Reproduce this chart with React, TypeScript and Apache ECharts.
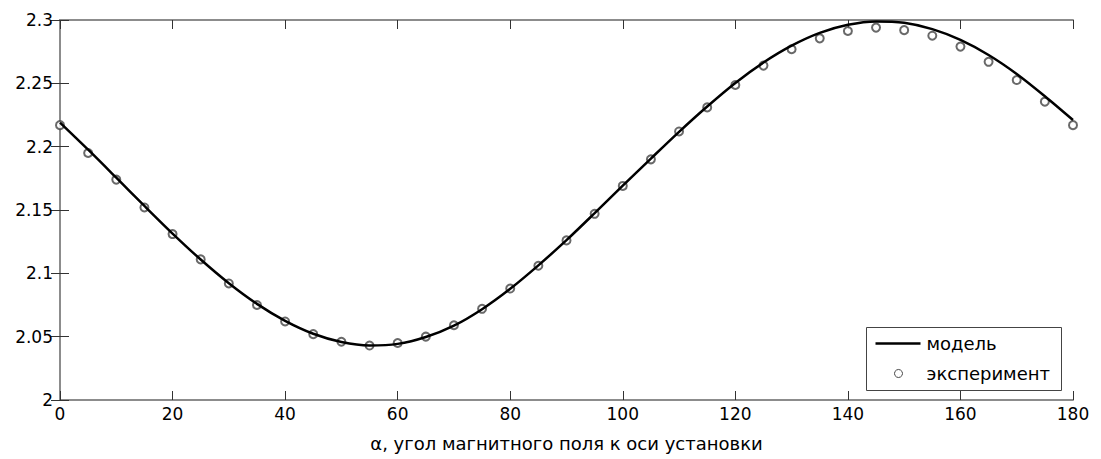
import React, { useEffect, useRef } from "react";
import * as echarts from "echarts";

const angles = [0, 5, 10, 15, 20, 25, 30, 35, 40, 45, 50, 55, 60, 65, 70, 75, 80, 85, 90, 95, 100, 105, 110, 115, 120, 125, 130, 135, 140, 145, 150, 155, 160, 165, 170, 175, 180];

const modelValues = [2.219, 2.1976, 2.1755, 2.1532, 2.1314, 2.1109, 2.0922, 2.0759, 2.0625, 2.0523, 2.0458, 2.0431, 2.0443, 2.0497, 2.0587, 2.0717, 2.0878, 2.1063, 2.1262, 2.1475, 2.1692, 2.1906, 2.2117, 2.2317, 2.2503, 2.2664, 2.2797, 2.2898, 2.2962, 2.2989, 2.2978, 2.2928, 2.2843, 2.2724, 2.2574, 2.2398, 2.221];

const experimentValues = [2.217, 2.195, 2.174, 2.152, 2.131, 2.111, 2.092, 2.075, 2.062, 2.052, 2.046, 2.043, 2.045, 2.05, 2.059, 2.072, 2.088, 2.106, 2.126, 2.147, 2.169, 2.19, 2.212, 2.231, 2.2487, 2.264, 2.2769, 2.2855, 2.2913, 2.294, 2.292, 2.2876, 2.279, 2.267, 2.2526, 2.2355, 2.217];

const xTicks = { min: 0, max: 180, interval: 20 };
const yTicks = { min: 2, max: 2.3, interval: 0.05 };

const seriesNames = ["модель", "эксперимент"];
const xAxisName = "α, угол магнитного поля к оси установки";

const FONT = "DejaVu Sans";

export default function App() {
  const ref = useRef<HTMLDivElement>(null);
  useEffect(() => {
    if (!ref.current) return;
    const chart = echarts.init(ref.current, null, { renderer: "svg" });
    const axisLine = { show: true, lineStyle: { color: "#8c8c8c", width: 2 } };
    const axisTick = { show: true, inside: true, length: 9, lineStyle: { color: "#333", width: 1 } };
    chart.setOption({
      animation: false,
      backgroundColor: "#fff",
      grid: { left: 60, right: 28, top: 20, bottom: 59, containLabel: false },
      xAxis: [
        {
          type: "value",
          min: xTicks.min,
          max: xTicks.max,
          interval: xTicks.interval,
          position: "bottom",
          axisLine,
          axisTick,
          splitLine: { show: false },
          axisLabel: { fontFamily: FONT, fontSize: 17, color: "#000", margin: 5 },
          name: xAxisName,
          nameLocation: "middle",
          nameGap: 34,
          nameTextStyle: { fontFamily: FONT, fontSize: 18, color: "#000" },
        },
        {
          type: "value",
          min: xTicks.min,
          max: xTicks.max,
          interval: xTicks.interval,
          position: "top",
          axisLine,
          axisTick,
          splitLine: { show: false },
          axisLabel: { show: false },
        },
      ],
      yAxis: [
        {
          type: "value",
          min: yTicks.min,
          max: yTicks.max,
          interval: yTicks.interval,
          position: "left",
          axisLine,
          axisTick,
          splitLine: { show: false },
          axisLabel: { fontFamily: FONT, fontSize: 17, color: "#000", margin: 7 },
        },
        {
          type: "value",
          min: yTicks.min,
          max: yTicks.max,
          interval: yTicks.interval,
          position: "right",
          axisLine,
          axisTick,
          splitLine: { show: false },
          axisLabel: { show: false },
        },
      ],
      graphic: [
        {
          type: "group",
          left: 866,
          top: 327,
          z: 100,
          children: [
            {
              type: "rect",
              shape: { x: 0, y: 0, width: 195, height: 63 },
              style: { fill: "#fff", stroke: "#444", lineWidth: 1 },
            },
            {
              type: "line",
              shape: { x1: 9, y1: 16, x2: 54, y2: 16 },
              style: { stroke: "#000", lineWidth: 2.5 },
            },
            {
              type: "text",
              x: 60,
              y: 16,
              style: { text: seriesNames[0], fontFamily: FONT, fontSize: 18, fill: "#000", verticalAlign: "middle" },
            },
            {
              type: "circle",
              shape: { cx: 32, cy: 46, r: 4 },
              style: { fill: "#fff", stroke: "#444", lineWidth: 1 },
            },
            {
              type: "text",
              x: 60,
              y: 46,
              style: { text: seriesNames[1], fontFamily: FONT, fontSize: 18, fill: "#000", verticalAlign: "middle" },
            },
          ],
        },
      ],
      series: [
        {
          name: seriesNames[0],
          type: "line",
          smooth: 0.3,
          symbol: "none",
          data: angles.map((a, i) => [a, modelValues[i]]),
          lineStyle: { color: "#000", width: 2.5 },
          itemStyle: { color: "#000" },
          z: 3,
        },
        {
          name: seriesNames[1],
          type: "scatter",
          symbol: "emptyCircle",
          symbolSize: 8,
          data: angles.map((a, i) => [a, experimentValues[i]]),
          itemStyle: { color: "#444", borderColor: "#444", borderWidth: 1 },
          z: 2,
        },
      ],
    });
    return () => chart.dispose();
  }, []);
  return (
    <div
      ref={ref}
      style={{ position: "fixed", left: 0, top: 0, width: 1101, height: 459 }}
    />
  );
}
